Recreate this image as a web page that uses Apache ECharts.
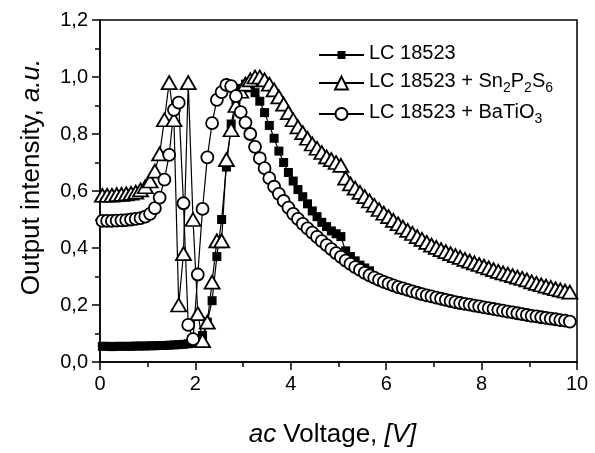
<!DOCTYPE html>
<html>
<head>
<meta charset="utf-8">
<script src="https://cdn.jsdelivr.net/npm/echarts@6/dist/echarts.min.js"></script>
<style>html,body{margin:0;padding:0;background:#fff;}#c{width:595px;height:453px;}</style>
</head>
<body>
<div id="c"></div>
<script>
// ---- data: [voltage V, output intensity a.u.] ----
const seriesNames = ['LC 18523', 'LC 18523 + Sn2P2S6', 'LC 18523 + BaTiO3'];
const xTicks = [0, 2, 4, 6, 8, 10];
const yTicks = [0.0, 0.2, 0.4, 0.6, 0.8, 1.0, 1.2];

const lcPure = [
 [0.05,0.055],[0.15,0.055],[0.25,0.054],[0.35,0.055],[0.45,0.055],[0.55,0.055],[0.65,0.055],[0.75,0.056],
 [0.85,0.056],[0.95,0.056],[1.05,0.057],[1.15,0.057],[1.25,0.058],[1.35,0.058],[1.45,0.059],[1.55,0.06],
 [1.65,0.061],[1.75,0.062],[1.85,0.064],[1.95,0.066],[2.05,0.072],[2.15,0.093],[2.25,0.14],[2.35,0.215],
 [2.45,0.37],[2.55,0.50],[2.65,0.684],[2.75,0.835],[2.85,0.92],[2.95,0.96],[3.05,0.975],[3.15,0.962],
 [3.25,0.945],[3.35,0.915],[3.45,0.875],[3.55,0.83],[3.65,0.785],[3.75,0.74],[3.85,0.70],[3.95,0.665],
 [4.05,0.635],[4.15,0.605],[4.25,0.58],[4.35,0.555],[4.45,0.53],[4.55,0.51],[4.65,0.49],[4.75,0.475],
 [4.85,0.46],[4.95,0.45],[5.05,0.44],[5.15,0.39],[5.25,0.37],[5.35,0.355],[5.45,0.34],[5.55,0.33],[5.65,0.32]
];

const lcSnPS = [
 [0.05,0.585],[0.15,0.585],[0.25,0.585],[0.35,0.587],[0.45,0.588],[0.55,0.59],[0.65,0.592],[0.75,0.596],
 [0.85,0.604],[0.95,0.615],[1.05,0.635],[1.15,0.67],[1.25,0.73],[1.35,0.85],[1.45,0.98],[1.55,0.85],
 [1.65,0.20],[1.75,0.38],[1.85,0.98],[1.95,0.50],[2.05,0.17],[2.15,0.075],[2.25,0.14],[2.35,0.28],
 [2.45,0.425],[2.55,0.425],[2.65,0.71],[2.75,0.815],[2.85,0.90],[2.95,0.95],[3.05,0.975],[3.15,0.99],
 [3.25,1.0],[3.35,1.0],[3.45,0.99],[3.55,0.975],[3.65,0.955],[3.75,0.93],[3.85,0.905],[3.95,0.875],
 [4.05,0.85],[4.15,0.825],[4.25,0.805],[4.35,0.785],[4.45,0.765],[4.55,0.75],[4.65,0.735],[4.75,0.72],
 [4.85,0.71],[4.95,0.70],[5.05,0.69],[5.15,0.645],[5.25,0.625],[5.35,0.61],[5.45,0.595],[5.55,0.58],
 [5.65,0.565],[5.75,0.55],[5.85,0.535],[5.95,0.522],[6.05,0.51],[6.15,0.497],[6.25,0.485],[6.35,0.473],
 [6.45,0.462],[6.55,0.451],[6.65,0.44],[6.75,0.43],[6.85,0.42],[6.95,0.41],[7.05,0.402],[7.15,0.394],
 [7.25,0.387],[7.35,0.38],[7.45,0.373],[7.55,0.367],[7.65,0.36],[7.75,0.354],[7.85,0.348],[7.95,0.342],
 [8.05,0.336],[8.15,0.33],[8.25,0.324],[8.35,0.318],[8.45,0.313],[8.55,0.308],[8.65,0.303],[8.75,0.298],
 [8.85,0.293],[8.95,0.288],[9.05,0.281],[9.15,0.276],[9.25,0.271],[9.35,0.266],[9.45,0.262],[9.55,0.257],
 [9.65,0.253],[9.75,0.249],[9.85,0.245]
];

const lcBaTiO = [
 [0.05,0.495],[0.15,0.495],[0.25,0.495],[0.35,0.496],[0.45,0.497],[0.55,0.498],[0.65,0.5],[0.75,0.502],
 [0.85,0.505],[0.95,0.51],[1.05,0.52],[1.15,0.54],[1.25,0.577],[1.35,0.64],[1.45,0.727],[1.55,0.885],
 [1.65,0.91],[1.75,0.557],[1.85,0.13],[1.95,0.08],[2.05,0.307],[2.15,0.537],[2.25,0.718],[2.35,0.838],
 [2.45,0.92],[2.55,0.947],[2.65,0.972],[2.75,0.968],[2.85,0.933],[2.95,0.877],[3.05,0.84],[3.15,0.80],
 [3.25,0.755],[3.35,0.715],[3.45,0.68],[3.55,0.645],[3.65,0.615],[3.75,0.59],[3.85,0.565],[3.95,0.542],
 [4.05,0.52],[4.15,0.502],[4.25,0.485],[4.35,0.469],[4.45,0.454],[4.55,0.439],[4.65,0.424],[4.75,0.41],
 [4.85,0.396],[4.95,0.382],[5.05,0.369],[5.15,0.356],[5.25,0.344],[5.35,0.333],[5.45,0.323],[5.55,0.313],
 [5.65,0.304],[5.75,0.296],[5.85,0.288],[5.95,0.281],[6.05,0.275],[6.15,0.269],[6.25,0.263],[6.35,0.258],
 [6.45,0.253],[6.55,0.248],[6.65,0.243],[6.75,0.238],[6.85,0.234],[6.95,0.23],[7.05,0.226],[7.15,0.222],
 [7.25,0.218],[7.35,0.214],[7.45,0.21],[7.55,0.207],[7.65,0.204],[7.75,0.201],[7.85,0.198],[7.95,0.195],
 [8.05,0.192],[8.15,0.189],[8.25,0.186],[8.35,0.183],[8.45,0.18],[8.55,0.177],[8.65,0.174],[8.75,0.171],
 [8.85,0.168],[8.95,0.165],[9.05,0.162],[9.15,0.16],[9.25,0.157],[9.35,0.155],[9.45,0.152],[9.55,0.15],
 [9.65,0.147],[9.75,0.145],[9.85,0.142]
];

// ---- chart ----
const FONT = '"Liberation Sans", Arial, Helvetica, sans-serif';
const chart = echarts.init(document.getElementById('c'), null, {renderer: 'canvas'});

const legendRich = {
  a: {fontSize: 20, fontFamily: FONT, color: '#000', lineHeight: 24, verticalAlign: 'top'},
  s: {fontSize: 14, fontFamily: FONT, color: '#000', lineHeight: 14, verticalAlign: 'bottom', padding: [14, 0, 0, 0]}
};
const legendLabels = {
  'LC 18523': '{a|LC 18523}',
  'LC 18523 + Sn2P2S6': '{a|LC 18523 + Sn}{s|2}{a|P}{s|2}{a|S}{s|6}',
  'LC 18523 + BaTiO3': '{a|LC 18523 + BaTiO}{s|3}'
};
function mkLegend(name, top, h) {
  return {
    data: [name], left: 318, top: top, padding: 0,
    itemWidth: 45, itemHeight: h, selectedMode: false,
    formatter: n => legendLabels[n],
    textStyle: {fontFamily: FONT, fontSize: 20, color: '#000', rich: legendRich}
  };
}

const axisCommon = {
  axisLine: {show: true, lineStyle: {color: '#000', width: 1.5}},
  axisTick: {show: true, length: 8, lineStyle: {color: '#000', width: 1.5}},
  minorTick: {show: true, splitNumber: 2, length: 5, lineStyle: {color: '#000', width: 1.5}},
  splitLine: {show: false},
  nameLocation: 'middle'
};

const option = {
  backgroundColor: '#fff',
  animation: false,
  grid: {left: 100, right: 18, top: 20, bottom: 88, show: true, borderColor: '#000', borderWidth: 1.5, backgroundColor: 'transparent'},
  legend: [
    mkLegend(seriesNames[0], 43, 10),
    mkLegend(seriesNames[1], 67, 16),
    mkLegend(seriesNames[2], 98, 15)
  ],
  xAxis: Object.assign({}, axisCommon, {
    type: 'value', min: xTicks[0], max: xTicks[xTicks.length - 1], interval: 2,
    axisLabel: {fontFamily: FONT, fontSize: 20, color: '#000', margin: 12},
    name: '{i|ac} Voltage, {i|[V]}', nameGap: 60,
    nameTextStyle: {fontFamily: FONT, fontSize: 26, color: '#000', padding: [0, 12, 0, 0],
      rich: {i: {fontFamily: FONT, fontSize: 26, color: '#000', fontStyle: 'italic'}}}
  }),
  yAxis: Object.assign({}, axisCommon, {
    type: 'value', min: yTicks[0], max: yTicks[yTicks.length - 1], interval: 0.2,
    axisLabel: {fontFamily: FONT, fontSize: 20, color: '#000', margin: 12,
      formatter: v => v.toFixed(1).replace('.', ',')},
    name: 'Output intensity, {i|a.u.}', nameGap: 55,
    nameTextStyle: {fontFamily: FONT, fontSize: 26, color: '#000', padding: [0, 0, 0, 28],
      rich: {i: {fontFamily: FONT, fontSize: 26, color: '#000', fontStyle: 'italic'}}}
  }),
  series: [
    {
      name: seriesNames[0], type: 'line', data: lcPure,
      symbol: 'rect', symbolSize: 9, showAllSymbol: true,
      lineStyle: {color: '#000', width: 1.2},
      itemStyle: {color: '#000', borderColor: '#000', borderWidth: 0}
    },
    {
      name: seriesNames[1], type: 'line', data: lcSnPS,
      symbol: 'triangle', symbolSize: [15, 13], showAllSymbol: true,
      lineStyle: {color: '#000', width: 1.2},
      itemStyle: {color: '#fff', borderColor: '#000', borderWidth: 1.8}
    },
    {
      name: seriesNames[2], type: 'line', data: lcBaTiO,
      symbol: 'circle', symbolSize: 12, showAllSymbol: true,
      lineStyle: {color: '#000', width: 1.2},
      itemStyle: {color: '#fff', borderColor: '#000', borderWidth: 1.8}
    }
  ]
};
chart.setOption(option);
</script>
</body>
</html>
